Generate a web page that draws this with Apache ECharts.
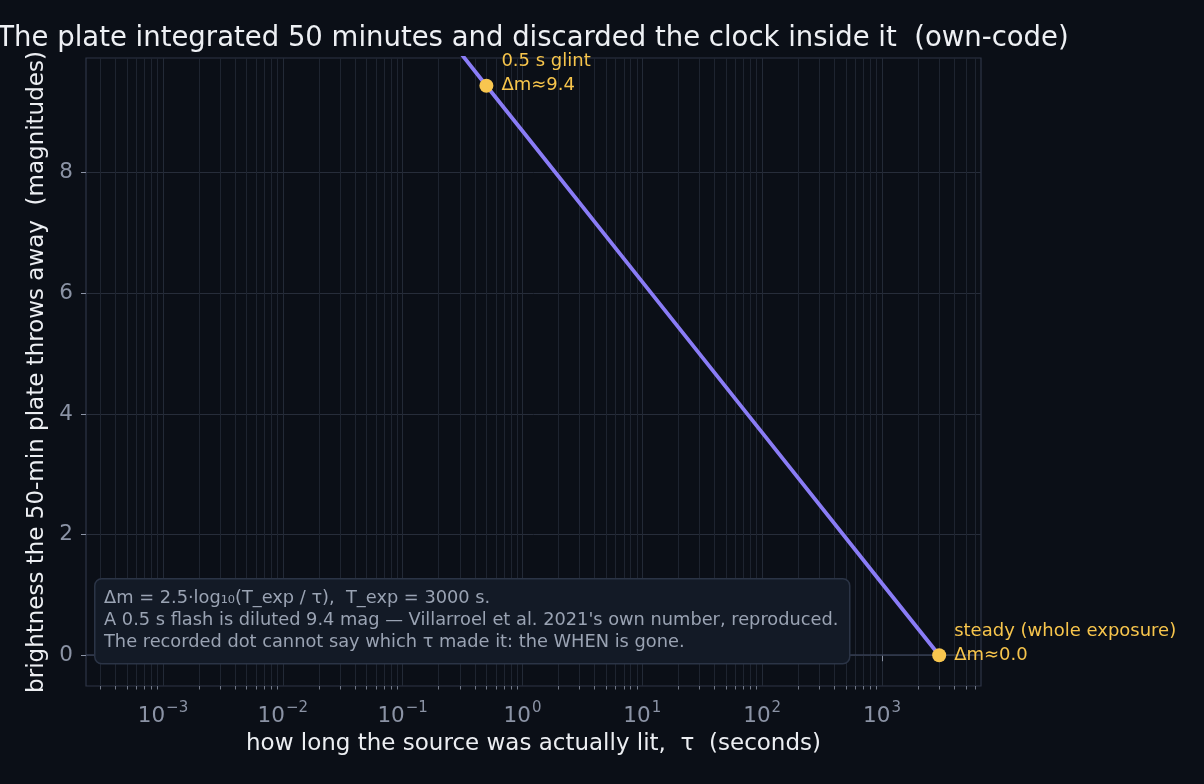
<!DOCTYPE html>
<html>
<head>
<meta charset="utf-8">
<script src="https://cdn.jsdelivr.net/npm/echarts@6/dist/echarts.min.js"></script>
<style>
html,body{margin:0;padding:0;background:#0b0f17;}
#c{width:1204px;height:784px;}
</style>
</head>
<body>
<div id="c"></div>
<script>
// ---- data ----
const lineTau = [0.001, 0.01, 0.1, 0.5, 1, 10, 100, 1000, 3000];
const lineDm  = [16.2, 13.7, 11.2, 9.44, 8.69, 6.19, 3.69, 1.19, 0.0];
const pointTau = [0.5, 3000];
const pointDm  = [9.44, 0.0];
const pointLabels = ['0.5 s glint\nΔm≈9.4', 'steady (whole exposure)\nΔm≈0.0'];
const xMajorTicks = [1e-3, 1e-2, 1e-1, 1, 10, 100, 1000];
const xMajorExp = ['−3', '−2', '−1', '0', '1', '2', '3'];
const xMinorTicks = [
  3e-4,4e-4,5e-4,6e-4,7e-4,8e-4,9e-4,
  2e-3,3e-3,4e-3,5e-3,6e-3,7e-3,8e-3,9e-3,
  2e-2,3e-2,4e-2,5e-2,6e-2,7e-2,8e-2,9e-2,
  0.2,0.3,0.4,0.5,0.6,0.7,0.8,0.9,
  2,3,4,5,6,7,8,9,
  20,30,40,50,60,70,80,90,
  200,300,400,500,600,700,800,900,
  2000,3000,4000,5000,6000
];
const yTicks = [0, 2, 4, 6, 8];
const boxLines = [
  'Δm = 2.5·log₁₀(T_exp / τ),  T_exp = 3000 s.',
  'A 0.5 s flash is diluted 9.4 mag — Villarroel et al. 2021\'s own number, reproduced.',
  'The recorded dot cannot say which τ made it: the WHEN is gone.'
];
const titleText = 'The plate integrated 50 minutes and discarded the clock inside it  (own-code)';
const xTitle = 'how long the source was actually lit,  τ  (seconds)';
const yTitle = 'brightness the 50-min plate throws away  (magnitudes)';

const FONT = 'DejaVu Sans';
const X_MIN = 2.28e-4, X_MAX = 6700, Y_MIN = -0.51, Y_MAX = 9.9;
const TICK_COLOR = '#8b93a5';

const chart = echarts.init(document.getElementById('c'), null, {renderer: 'canvas'});
const option = {
  backgroundColor: '#0b0f17',
  animation: false,
  textStyle: {fontFamily: FONT},
  title: {
    text: titleText,
    left: 533, top: 25, padding: 0,
    textAlign: 'center',
    textStyle: {color: '#eef0f4', fontSize: 27.5, fontWeight: 'normal', fontFamily: FONT}
  },
  grid: {
    left: 86, right: 223, top: 58, bottom: 98,
    show: true, borderColor: '#2e3546', borderWidth: 1.2, backgroundColor: 'transparent'
  },
  xAxis: [
    {
      type: 'log', logBase: 10, min: X_MIN, max: X_MAX,
      position: 'bottom',
      axisLine: {show: false},
      axisTick: {show: true, customValues: xMajorTicks, length: 6, lineStyle: {color: TICK_COLOR, width: 1}},
      axisLabel: {
        customValues: xMajorTicks, margin: 15, color: TICK_COLOR, fontFamily: FONT,
        formatter: function (v) {
          const e = Math.round(Math.log10(v));
          const i = xMajorTicks.findIndex(t => Math.abs(Math.log10(t) - e) < 1e-6);
          return '{b|10}{s|' + xMajorExp[i] + '}';
        },
        rich: {
          b: {fontSize: 21.5, color: TICK_COLOR, fontFamily: FONT, lineHeight: 26, verticalAlign: 'bottom'},
          s: {fontSize: 15, color: TICK_COLOR, fontFamily: FONT, lineHeight: 26, verticalAlign: 'top', padding: [0, 0, 9, 1]}
        }
      },
      splitLine: {show: true, lineStyle: {color: '#232a37', width: 1}},
      name: xTitle, nameLocation: 'middle', nameGap: 47,
      nameTextStyle: {color: '#eceef2', fontSize: 23, fontFamily: FONT}
    },
    {
      type: 'log', logBase: 10, min: X_MIN, max: X_MAX,
      position: 'bottom', offset: 0,
      axisLine: {show: false},
      axisTick: {show: true, customValues: xMinorTicks, length: 3.5, lineStyle: {color: TICK_COLOR, width: 0.8}},
      axisLabel: {show: false},
      splitLine: {show: true, lineStyle: {color: '#1e2430', width: 1}}
    }
  ],
  yAxis: {
    type: 'value', min: Y_MIN, max: Y_MAX,
    axisLine: {show: false},
    axisTick: {show: true, customValues: yTicks, length: 5, lineStyle: {color: TICK_COLOR, width: 1}},
    axisLabel: {customValues: yTicks, margin: 13, color: TICK_COLOR, fontSize: 21.5, fontFamily: FONT},
    splitLine: {show: true, lineStyle: {color: '#272d3a', width: 1}},
    name: yTitle, nameLocation: 'middle', nameGap: 37,
    nameTextStyle: {color: '#eceef2', fontSize: 23, fontFamily: FONT}
  },
  series: [
    {
      type: 'line', xAxisIndex: 0, yAxisIndex: 0,
      data: lineTau.map((t, i) => [t, lineDm[i]]),
      showSymbol: false, symbol: 'none', clip: true,
      lineStyle: {color: '#8a7cf6', width: 3.8},
      z: 3,
      markLine: {
        silent: true, symbol: 'none', label: {show: false},
        lineStyle: {color: '#353d50', width: 1.5, type: 'solid'},
        data: [{yAxis: 0}], z: 2
      }
    },
    {
      type: 'scatter', xAxisIndex: 0, yAxisIndex: 0,
      data: pointTau.map((t, i) => [t, pointDm[i]]),
      symbolSize: 14,
      itemStyle: {color: '#f8c64f', opacity: 1},
      z: 5,
      label: {
        show: true, position: 'right', distance: 8, offset: [0, -12],
        formatter: p => pointLabels[p.dataIndex],
        color: '#f7c54c', opacity: 1, fontSize: 18, lineHeight: 24, fontFamily: FONT, align: 'left'
      }
    }
  ],
  graphic: [
    {type: 'rect', left: 94, top: 578, z: 100, zlevel: 0,
     shape: {x: 0, y: 0, width: 755, height: 85, r: 7},
     style: {fill: '#131a26', stroke: '#2b3446', lineWidth: 1.5}},
    {type: 'text', left: 104, top: 587, z: 101, zlevel: 0,
     style: {text: boxLines.join('\n'), fill: '#9aa3b3', fontSize: 17.8, lineHeight: 22, fontFamily: FONT}}
  ]
};
chart.setOption(option);
</script>
</body>
</html>
